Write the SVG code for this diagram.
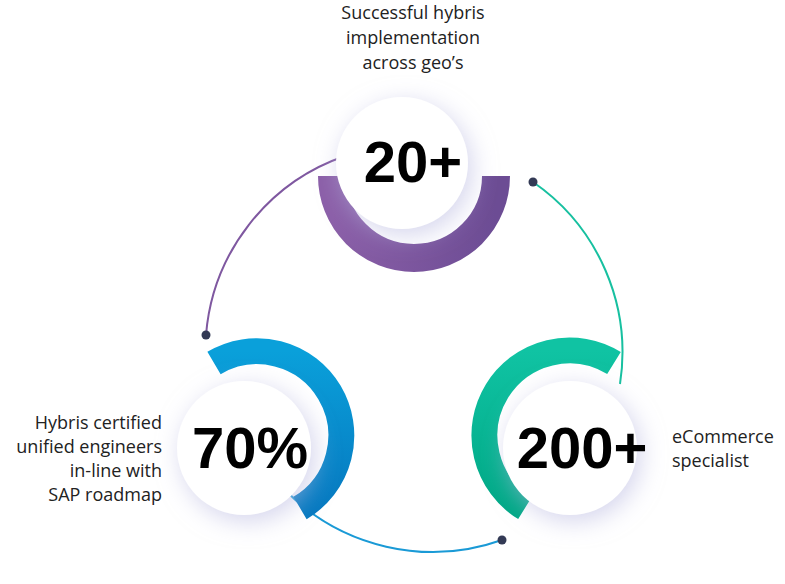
<svg xmlns="http://www.w3.org/2000/svg" width="785" height="584" viewBox="0 0 785 584">
<style>
.lbl{font-family:"Open Sans","Noto Sans",sans-serif;font-size:18px;fill:#222}
.num{font-family:"Liberation Sans",Arial,sans-serif;font-weight:bold;font-size:58px;fill:#000;text-anchor:middle}
.wc{fill:#fff;filter:url(#sh)}
.dot{fill:#333a55}
</style>
<defs>
<filter id="sh" x="-50%" y="-50%" width="200%" height="200%">
<feDropShadow dx="4" dy="6" stdDeviation="12" flood-color="#b8b8e0" flood-opacity="0.6"/>
</filter>
<linearGradient id="gp" x1="0" x2="1"><stop offset="0" stop-color="#8b5fa8"/><stop offset="1" stop-color="#6c4c94"/></linearGradient>
<linearGradient id="gb" x1="0" y1="0" x2="0" y2="1"><stop offset="0" stop-color="#0aa0da"/><stop offset="1" stop-color="#0679c0"/></linearGradient>
<linearGradient id="gt" x1="0" y1="0" x2="0" y2="1"><stop offset="0" stop-color="#10c3a3"/><stop offset="1" stop-color="#00a886"/></linearGradient>
</defs>
<g id="connectors" fill="none" stroke-width="2">
<path d="M206 335 A207 207 0 0 1 345 156" stroke="#7f58a0"/>
<path d="M533 182 A207 207 0 0 1 620 384" stroke="#17c0a0"/>
<path d="M285 490 A207 207 0 0 0 502 540" stroke="#1a9ad6"/>
<circle class="dot" cx="206" cy="335" r="4.5"/>
<circle class="dot" cx="533" cy="182" r="4.5"/>
<circle class="dot" cx="502" cy="540" r="4.5"/>
</g>
<g id="node-top">
<path d="M332 176 A82 82 0 0 0 496 176" fill="none" stroke="url(#gp)" stroke-width="28"/>
<circle class="wc" cx="402" cy="163" r="66"/>
<text class="num" x="413" y="182">20+</text>
<text class="lbl" text-anchor="middle"><tspan x="413" y="19">Successful hybris</tspan><tspan x="413" y="44">implementation</tspan><tspan x="413" y="69">across geo’s</tspan></text>
</g>
<g id="node-left">
<path d="M214 363 A77 77 0 1 1 300 508" fill="none" stroke="url(#gb)" stroke-width="26"/>
<circle class="wc" cx="244" cy="448" r="67"/>
<text class="num" x="250" y="468">70%</text>
<text class="lbl" text-anchor="end"><tspan x="162" y="429">Hybris certified</tspan><tspan x="162" y="453">unified engineers</tspan><tspan x="162" y="477">in-line with</tspan><tspan x="162" y="501">SAP roadmap</tspan></text>
</g>
<g id="node-right">
<path d="M614 363 A77 77 0 1 0 525 508" fill="none" stroke="url(#gt)" stroke-width="26"/>
<circle class="wc" cx="570" cy="448" r="67"/>
<text class="num" x="582" y="468">200+</text>
<text class="lbl"><tspan x="672" y="443">eCommerce</tspan><tspan x="672" y="467">specialist</tspan></text>
</g>
</svg>
